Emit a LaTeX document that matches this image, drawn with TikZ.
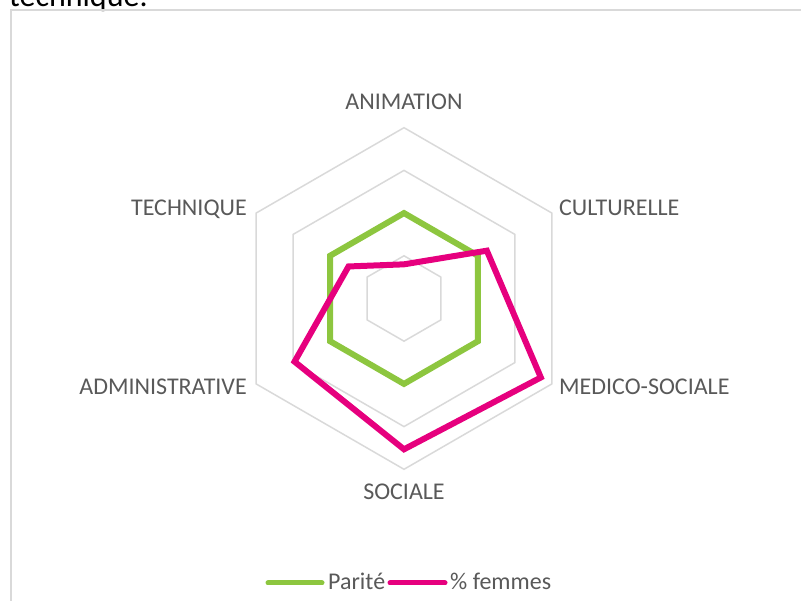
\documentclass[tikz,border=0pt]{standalone}
\usepackage{fontspec}
\setmainfont{Carlito}
\definecolor{ringgray}{RGB}{217,217,217}
\definecolor{labelgray}{RGB}{89,89,89}
\definecolor{paritegreen}{RGB}{141,198,63}
\definecolor{femmespink}{RGB}{230,0,126}
\tikzset{
  axislabel/.style={inner sep=0pt, text=labelgray, font=\fontsize{24}{28}\selectfont},
  ring/.style={draw=ringgray, line width=1.5pt},
  series/.style={line width=6pt, line join=miter},
  legendkey/.style={line width=5pt, line cap=round}
}
\begin{document}
\begin{tikzpicture}[x=1pt,y=1pt]
        \useasboundingbox (0,0) rectangle (801,601);
        \clip (0,0) rectangle (801,601);
        % text cut at the top of the page
        \node[anchor=base west, inner sep=0pt, font=\fontsize{32}{38}\selectfont] (caption) at (9,594.5) {technique.};
        % chart frame
        \draw[ringgray, line width=1.5pt] (11,0) -- (11,591) -- (801,591);

        \begin{scope}[shift={(404,302.5)}]
        \def\ringstep{42.7}
        \def\outer{170.8}
        % hexagonal grid
        \foreach \r in {1,...,4}
            \draw[ring] (90:{\r*\ringstep}) \foreach \a in {30,-30,-90,-150,150} { -- (\a:{\r*\ringstep}) } -- cycle;

        % Parite: 50% on every axis
        \draw[series, paritegreen] (90:{2*\ringstep}) \foreach \a in {30,-30,-90,-150,150} { -- (\a:{2*\ringstep}) } -- cycle;
        % % femmes
        \draw[series, femmespink] (90:{0.20*\outer}) -- (30:{0.56*\outer}) -- (-30:{0.925*\outer})
            -- (-90:{0.883*\outer}) -- (-150:{0.74*\outer}) -- (150:{0.375*\outer}) -- cycle;

        % axis names
        \node[axislabel, anchor=base] (animation) at (0,188.5) {ANIMATION};
        \node[axislabel, anchor=base west] (culturelle) at (155,82.5) {CULTURELLE};
        \node[axislabel, anchor=base west] (medico) at (155,-96.5) {MEDICO-SOCIALE};
        \node[axislabel, anchor=base] (sociale) at (0,-201.5) {SOCIALE};
        \node[axislabel, anchor=base east] (administrative) at (-157,-96.5) {ADMINISTRATIVE};
        \node[axislabel, anchor=base east] (technique) at (-157,82.5) {TECHNIQUE};

        % legend
        \coordinate (paritea) at (-136,-284.5);
        \coordinate (pariteb) at (-82,-284.5);
        \draw[legendkey, paritegreen] (paritea) -- (pariteb);
        \node[axislabel, anchor=base west] (paritelabel) at (-76,-291.5) {Parité};
        \coordinate (femmesa) at (-14,-284.5);
        \coordinate (femmesb) at (41,-284.5);
        \draw[legendkey, femmespink] (femmesa) -- (femmesb);
        \node[axislabel, anchor=base west] (femmeslabel) at (46,-291.5) {\% femmes};
        \end{scope}
\end{tikzpicture}
\end{document}
